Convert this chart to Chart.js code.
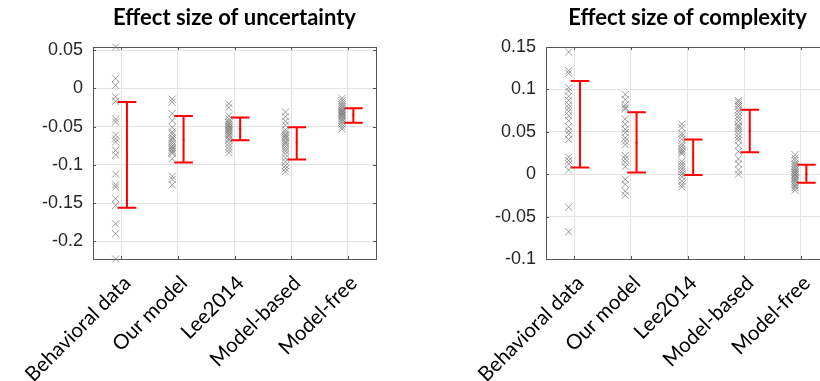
<!DOCTYPE html>
<html>
<head>
<meta charset="utf-8">
<script src="https://cdn.jsdelivr.net/npm/chart.js@4.4.1/dist/chart.umd.min.js"></script>
<style>
    html, body { margin: 0; padding: 0; background: #fff; overflow: hidden; }
    .wrap { position: relative; width: 820px; height: 381px; overflow: hidden; }
    #left  { position: absolute; left: 0;     top: 0; }
    #right { position: absolute; left: 410px; top: 0; }
</style>
</head>
<body>
<div class="wrap">
    <canvas id="left"></canvas>
    <canvas id="right"></canvas>
</div>
<script>
// ── Data ─────────────────────────────────────────────────────────────────────
const categories = ['Behavioral data', 'Our model', 'Lee2014', 'Model-based', 'Model-free'];

// Effect size of uncertainty: one list per group
const uncBehavioral = [0.054, 0.013, 0.004, -0.011, -0.017, -0.040, -0.044, -0.061, -0.066, -0.070,
                       -0.081, -0.087, -0.112, -0.126, -0.129, -0.144, -0.153, -0.177, -0.190, -0.223];
const uncOurModel   = [-0.014, -0.018, -0.033, -0.042, -0.051, -0.057, -0.060, -0.064, -0.066, -0.069,
                       -0.072, -0.075, -0.077, -0.079, -0.081, -0.083, -0.085, -0.092, -0.115, -0.119, -0.126];
const uncLee2014    = [-0.020, -0.025, -0.036, -0.040, -0.043, -0.045, -0.047, -0.049, -0.050, -0.052, -0.054,
                       -0.055, -0.057, -0.059, -0.061, -0.063, -0.066, -0.068, -0.072, -0.076, -0.080, -0.084];
const uncModelBased = [-0.031, -0.037, -0.043, -0.048, -0.054, -0.057, -0.060, -0.062, -0.064, -0.066, -0.069,
                       -0.071, -0.073, -0.076, -0.079, -0.082, -0.086, -0.091, -0.096, -0.101, -0.105, -0.109];
const uncModelFree  = [-0.013, -0.016, -0.019, -0.022, -0.024, -0.026, -0.028, -0.029, -0.031, -0.032,
                       -0.033, -0.035, -0.036, -0.038, -0.040, -0.042, -0.044, -0.047, -0.050, -0.053];
const uncMean = [-0.087, -0.067, -0.053, -0.071, -0.035];
const uncLow  = [-0.156, -0.097, -0.068, -0.093, -0.045];
const uncHigh = [-0.018, -0.036, -0.038, -0.051, -0.026];
const uncYLim = [-0.223, 0.054];

// Effect size of complexity
const cplBehavioral = [0.144, 0.122, 0.119, 0.102, 0.098, 0.092, 0.087, 0.082, 0.078, 0.074, 0.069,
                       0.063, 0.056, 0.051, 0.047, 0.041, 0.020, 0.016, 0.012, 0.005, -0.039, -0.068];
const cplOurModel   = [0.094, 0.088, 0.082, 0.079, 0.077, 0.065, 0.059, 0.053, 0.049, 0.043,
                       0.039, 0.035, 0.022, 0.018, 0.014, 0.009, -0.006, -0.012, -0.020, -0.025];
const cplLee2014    = [0.059, 0.055, 0.048, 0.045, 0.041, 0.036, 0.033, 0.030, 0.028, 0.026, 0.024,
                       0.015, 0.012, 0.009, 0.006, 0.003, 0.000, -0.003, -0.008, -0.012, -0.015];
const cplModelBased = [0.087, 0.085, 0.082, 0.080, 0.076, 0.073, 0.069, 0.066, 0.062, 0.058, 0.056,
                       0.054, 0.051, 0.047, 0.043, 0.040, 0.034, 0.027, 0.018, 0.012, 0.005, 0.000];
const cplModelFree  = [0.023, 0.019, 0.016, 0.013, 0.011, 0.009, 0.007, 0.005, 0.003, 0.002, 0.000,
                       -0.001, -0.003, -0.005, -0.006, -0.008, -0.010, -0.012, -0.014, -0.016, -0.019];
const cplMean = [0.059, 0.037, 0.020, 0.051, 0.000];
const cplLow  = [0.008, 0.002, -0.001, 0.026, -0.010];
const cplHigh = [0.110, 0.073, 0.041, 0.076, 0.011];
const cplYLim = [-0.1, 0.15];

// ── Look ─────────────────────────────────────────────────────────────────────
const POINT_SHIFT = -0.1;   // scatter column sits left of the tick
const BAR_SHIFT   = 0.1;    // error bar sits right of the tick
const CAP_HALF    = 0.165;  // half width of error bar caps (x units)
const AXIS_COLOR  = '#555555';
const GRID_COLOR  = '#e3e3e3';
const TICK_FONT   = { family: '"Liberation Sans", Arial, sans-serif', size: 18 };
const CAT_FONT    = { family: 'Lato, "Noto Sans", sans-serif', size: 20.5 };
const TITLE_FONT  = { family: 'Lato, "Noto Sans", sans-serif', size: 22, weight: 'bold', lineHeight: 1.2 };

// ── Build datasets ───────────────────────────────────────────────────────────
function scatterPoints(groups) {
    const pts = [];
    groups.forEach((vals, i) => vals.forEach(v => pts.push({ x: i + 1 + POINT_SHIFT, y: v })));
    return pts;
}

function errorBarPath(low, high) {
    const pts = [];
    low.forEach((lo, i) => {
        const xc = i + 1 + BAR_SHIFT;
        const hi = high[i];
        pts.push({ x: xc - CAP_HALF, y: hi }, { x: xc + CAP_HALF, y: hi }, { x: xc, y: null });
        pts.push({ x: xc, y: hi }, { x: xc, y: lo }, { x: xc, y: null });
        pts.push({ x: xc - CAP_HALF, y: lo }, { x: xc + CAP_HALF, y: lo }, { x: xc, y: null });
    });
    return pts;
}

function meanPoints(mean) {
    return mean.map((m, i) => ({ x: i + 1 + BAR_SHIFT, y: m }));
}

// MATLAB-like box with inward tick marks
const boxPlugin = {
    id: 'matlabBox',
    beforeDatasetsDraw(chart) {
        const { ctx, chartArea: a, scales } = chart;
        ctx.save();
        ctx.strokeStyle = AXIS_COLOR;
        ctx.lineWidth = 1;
        ctx.strokeRect(Math.round(a.left) + 0.5, Math.round(a.top) + 0.5,
                       Math.round(a.right - a.left), Math.round(a.bottom - a.top));
        ctx.beginPath();
        scales.x.ticks.forEach(t => {
            const px = Math.round(scales.x.getPixelForValue(t.value)) + 0.5;
            ctx.moveTo(px, a.top); ctx.lineTo(px, a.top + 3);
            ctx.moveTo(px, a.bottom); ctx.lineTo(px, a.bottom - 3);
        });
        scales.y.ticks.forEach(t => {
            const py = Math.round(scales.y.getPixelForValue(t.value)) + 0.5;
            ctx.moveTo(a.left, py); ctx.lineTo(a.left + 3, py);
            ctx.moveTo(a.right, py); ctx.lineTo(a.right - 3, py);
        });
        ctx.stroke();
        ctx.restore();
    }
};

function makeChart(canvasId, size, title, groups, mean, low, high, yLim, yAxisWidth, padRight) {
    const canvas = document.getElementById(canvasId);
    canvas.width = size[0];
    canvas.height = size[1];
    canvas.style.width = size[0] + 'px';
    canvas.style.height = size[1] + 'px';

    return new Chart(canvas.getContext('2d'), {
        type: 'scatter',
        data: {
            datasets: [
                {
                    data: scatterPoints(groups),
                    pointStyle: 'crossRot',
                    pointRadius: 5,
                    pointBorderWidth: 1,
                    borderColor: 'rgba(115,115,115,0.7)',
                    backgroundColor: 'rgba(115,115,115,0.7)',
                    clip: false
                },
                {
                    data: errorBarPath(low, high),
                    showLine: true,
                    spanGaps: false,
                    borderColor: '#ff0000',
                    borderWidth: 2,
                    pointRadius: 0,
                    clip: false
                },
                {
                    data: meanPoints(mean),
                    pointStyle: 'circle',
                    pointRadius: 1.1,
                    borderWidth: 0,
                    borderColor: '#ff0000',
                    backgroundColor: '#ff0000',
                    clip: false
                }
            ]
        },
        options: {
            responsive: false,
            animation: false,
            layout: { padding: { left: 0, right: padRight, top: 0, bottom: 0 } },
            plugins: {
                legend: { display: false },
                tooltip: { enabled: false },
                title: {
                    display: true,
                    text: title,
                    fullSize: false,
                    color: '#000',
                    font: TITLE_FONT,
                    padding: { top: 5, bottom: 15.6 }
                }
            },
            scales: {
                x: {
                    type: 'linear',
                    min: 0.5,
                    max: 5.5,
                    afterBuildTicks: s => { s.ticks = categories.map((c, i) => ({ value: i + 1 })); },
                    afterFit: s => { s.height = 122; },
                    grid: { color: GRID_COLOR, drawTicks: false },
                    border: { display: false },
                    ticks: {
                        autoSkip: false,
                        minRotation: 45,
                        maxRotation: 45,
                        padding: 12,
                        labelOffset: 6,
                        color: '#000',
                        font: CAT_FONT,
                        callback: v => categories[Math.round(v) - 1]
                    }
                },
                y: {
                    min: yLim[0],
                    max: yLim[1],
                    afterFit: s => { s.width = yAxisWidth; },
                    grid: { color: GRID_COLOR, drawTicks: false },
                    border: { display: false },
                    ticks: {
                        stepSize: 0.05,
                        includeBounds: false,
                        padding: 10,
                        color: '#262626',
                        font: TICK_FONT,
                        callback: v => String(+v.toFixed(3))
                    }
                }
            }
        },
        plugins: [boxPlugin]
    });
}

// ── Init ─────────────────────────────────────────────────────────────────────
makeChart('left', [410, 381], 'Effect size of uncertainty',
    [uncBehavioral, uncOurModel, uncLee2014, uncModelBased, uncModelFree],
    uncMean, uncLow, uncHigh, uncYLim, 93, 34);

makeChart('right', [440, 381], 'Effect size of complexity',
    [cplBehavioral, cplOurModel, cplLee2014, cplModelBased, cplModelFree],
    cplMean, cplLow, cplHigh, cplYLim, 136, 21);
</script>
</body>
</html>
